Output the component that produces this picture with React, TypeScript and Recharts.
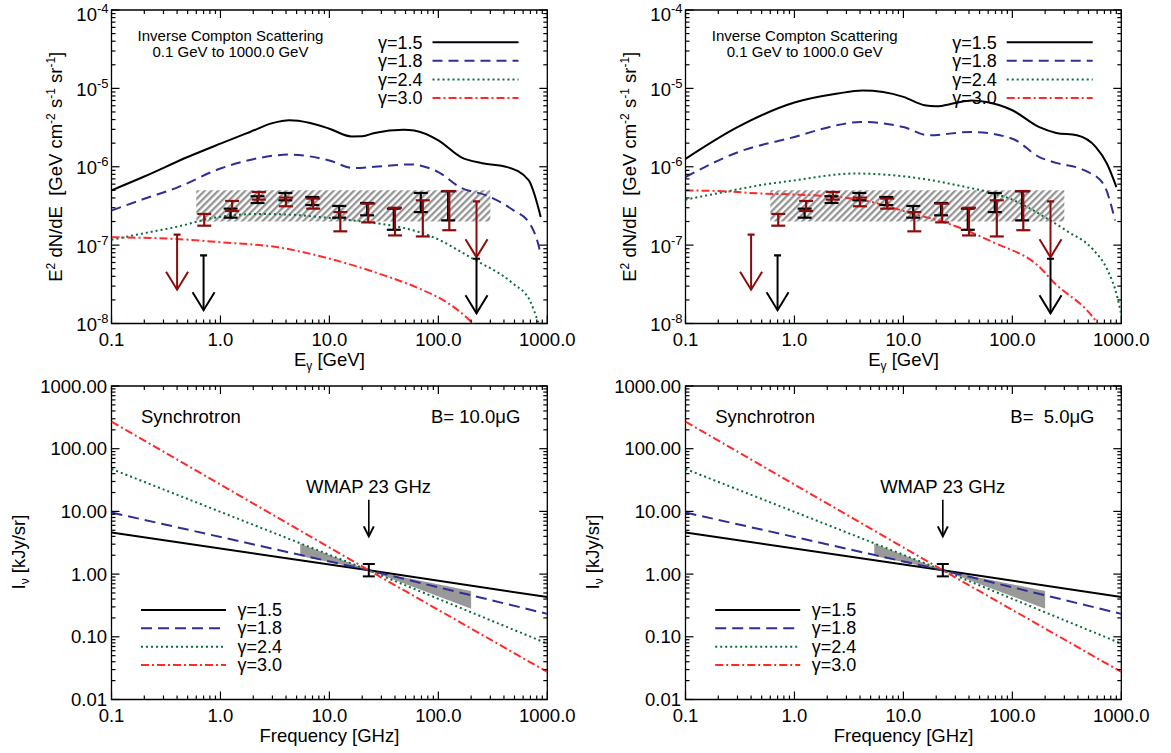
import React from 'react';
import { ComposedChart, Line, Scatter, Area, XAxis, YAxis, ErrorBar, ReferenceArea } from 'recharts';

const FONT = '"Liberation Sans", Arial, Helvetica, sans-serif';

// ---- Inverse Compton spectra, [E (GeV), E^2 dN/dE] ----
const icLeft15 = [[0.1, 5.0e-7], [0.2, 7.5e-7], [0.5, 1.33e-6], [1, 1.97e-6], [1.87, 2.78e-6], [3, 3.6e-6], [4.3, 3.92e-6], [6.5, 3.65e-6], [10, 3.06e-6], [16, 2.44e-6], [20, 2.45e-6], [26, 2.7e-6], [48, 2.97e-6], [60, 2.9e-6], [100, 2.17e-6], [161, 1.33e-6], [253, 1.11e-6], [430, 9.9e-7], [676, 6.7e-7], [741, 5.0e-7], [807, 3.4e-7], [870, 2.28e-7]];
const icLeft18 = [[0.1, 2.76e-7], [0.2, 3.9e-7], [0.41, 5.5e-7], [1, 9.5e-7], [2, 1.25e-6], [4.3, 1.43e-6], [10, 1.2e-6], [16.7, 9.6e-7], [26, 1.0e-6], [55, 1.07e-6], [100, 8.55e-7], [161, 5.4e-7], [277, 4.3e-7], [486, 2.8e-7], [692, 1.88e-7], [824, 1.04e-7], [870, 7.6e-8]];
const icLeft24 = [[0.1, 1.17e-7], [0.2, 1.42e-7], [0.425, 1.75e-7], [0.82, 2.2e-7], [2.3, 2.5e-7], [4.3, 2.45e-7], [8.2, 2.28e-7], [21.9, 1.97e-7], [44, 1.7e-7], [89, 1.27e-7], [207, 6.7e-8], [482, 3.25e-8], [692, 1.96e-8], [814, 1.1e-8], [950, 6e-9]];
const icLeft30 = [[0.1, 1.26e-7], [0.425, 1.19e-7], [1, 1.09e-7], [3.5, 9.3e-8], [10.1, 6.7e-8], [29, 4.3e-8], [67.6, 2.77e-8], [119, 1.87e-8], [181, 1.2e-8], [230, 8.5e-9], [300, 5e-9]];

const icRight15 = [[0.1, 1.26e-6], [0.3, 3.2e-6], [1, 6.6e-6], [2.5, 8.6e-6], [4.2, 9.4e-6], [6.5, 9.0e-6], [10, 7.8e-6], [15.6, 6.1e-6], [20, 5.9e-6], [30, 6.5e-6], [42, 7.0e-6], [58, 6.7e-6], [100, 5.26e-6], [177, 3.2e-6], [253, 2.7e-6], [391, 2.52e-6], [582, 1.79e-6], [739, 1.09e-6], [902, 5.5e-7]];
const icRight18 = [[0.1, 7.4e-7], [0.305, 1.54e-6], [1, 2.4e-6], [2.5, 3.4e-6], [4.04, 3.73e-6], [10, 3.21e-6], [16.9, 2.52e-6], [42, 2.78e-6], [100, 2.28e-6], [177, 1.33e-6], [253, 1.12e-6], [461, 8.97e-7], [683, 6.07e-7], [877, 2.06e-7]];
const icRight24 = [[0.1, 3.8e-7], [0.2, 4.6e-7], [0.48, 5.8e-7], [1, 6.7e-7], [3.6, 8.2e-7], [14.6, 7.06e-7], [37.5, 5.5e-7], [62.6, 4.7e-7], [100, 3.8e-7], [191, 2.35e-7], [320, 1.5e-7], [550, 8.8e-8], [750, 4.75e-8], [920, 2.17e-8], [1000, 1.3e-8]];
const icRight30 = [[0.1, 4.98e-7], [0.2, 4.9e-7], [0.515, 4.54e-7], [1, 4.43e-7], [3.97, 3.81e-7], [12.2, 2.52e-7], [24.9, 1.91e-7], [66.5, 1.09e-7], [191, 4.75e-8], [224, 3.7e-8], [550, 1.2e-8], [700, 7.5e-9], [1000, 3.5e-9]];

// measured points, same in both IC panels
const barBlackE = [1.24, 2.19, 3.94, 6.96, 12.3, 22.2, 39, 69, 123];
const barBlackLo = [2.24e-7, 3.45e-7, 3.73e-7, 3.25e-7, 2.24e-7, 2.4e-7, 1.57e-7, 2.64e-7, 2.07e-7];
const barBlackHi = [2.92e-7, 4.2e-7, 4.63e-7, 4.11e-7, 3.16e-7, 3.45e-7, 2.92e-7, 4.63e-7, 4.86e-7];
const barRedE = [0.71, 1.28, 2.25, 3.99, 7.1, 12.6, 22.7, 40, 72, 126];
const barRedLo = [1.77e-7, 2.72e-7, 3.81e-7, 3.13e-7, 2.92e-7, 1.5e-7, 1.95e-7, 1.33e-7, 1.29e-7, 1.55e-7];
const barRedHi = [2.5e-7, 3.66e-7, 4.77e-7, 4.04e-7, 3.92e-7, 2.64e-7, 3.38e-7, 3.0e-7, 3.73e-7, 4.9e-7];
const limitE = [0.4, 0.7, 224, 224];
const limitTop = [1.36e-7, 7.4e-8, 3.62e-7, 6.7e-8];
const limitTip = [2.7e-8, 1.48e-8, 7.0e-8, 1.35e-8];
const limitRed = [true, false, true, false];
const hatchE = [0.6, 300];
const hatchV = [2e-7, 5e-7];

// ---- Synchrotron, [GHz] vs kJy/sr ----
const syFreq = [0.1, 23, 1000];
const sy15 = [4.6, 1.15, 0.43];
const sy18 = [9.6, 1.15, 0.232];
const sy24 = [47.5, 1.15, 0.078];
const sy30 = [271, 1.15, 0.0275];
const slopeFreq = [5.4, 23, 200];
const slopeLo = [1.95, 1.15, 0.28];
const slopeHi = [3.05, 1.15, 0.54];
const wmapFreq = 23;
const wmapLo = 0.92;
const wmapHi = 1.45;
const wmapArrow = [15.3, 4.0];

// ---- ticks ----
const eMajors = [0.1, 1, 10, 100, 1000];
const eLabels = ['0.1', '1.0', '10.0', '100.0', '1000.0'];
const icMajors = [1e-8, 1e-7, 1e-6, 1e-5, 1e-4];
const icExp = ['-8', '-7', '-6', '-5', '-4'];
const syMajors = [0.01, 0.1, 1, 10, 100, 1000];
const syLabels = ['0.01', '0.10', '1.00', '10.00', '100.00', '1000.00'];

const withMinors = (majors: number[]) => {
  const out: number[] = [];
  majors.forEach((m, i) => {
    out.push(m);
    if (i < majors.length - 1) for (let d = 2; d <= 9; d++) out.push(m * d);
  });
  return out;
};
const majorIndex = (majors: number[], v: number) => majors.findIndex((m) => Math.abs(v / m - 1) < 1e-6);

const gammaLabels = ['γ=1.5', 'γ=1.8', 'γ=2.4', 'γ=3.0'];
const STYLES = [
  { color: '#000000', dash: undefined as string | undefined },
  { color: '#2e2e94', dash: '10 6' },
  { color: '#0b6e38', dash: '2 3' },
  { color: '#ff2a2a', dash: '8 3 2 3' },
];
const DARKRED = '#8c0c0c';

// ---- layout ----
const PANEL_X = [111.5, 685.7];
const PANEL_Y = [10, 386];
const PW = 435.8;
const PH = 313.5;
const CW = 580;
const CH = 376;
const ML = 111.5;
const MT = 10;
const YW = 80; // y axis band
const XH = 40; // x axis band
const MARGIN = { top: MT, left: ML - YW, right: CW - ML - PW, bottom: CH - MT - PH - XH };

const pts = (a: number[][]) => a.map(([e, v]) => ({ e, v }));

const XTick = (p: any) => {
  const i = majorIndex(eMajors, p.payload.value);
  const len = i >= 0 ? 8 : 4;
  return (
    <g>
      <line x1={p.x} x2={p.x} y1={p.y} y2={p.y - len} stroke="#000" strokeWidth={1.2} />
      <line x1={p.x} x2={p.x} y1={p.y - PH} y2={p.y - PH + len} stroke="#000" strokeWidth={1.2} />
      {i >= 0 && (
        <text x={p.x} y={p.y + 22.5} textAnchor="middle" fontSize={18.5} fontFamily={FONT} fill="#000">
          {eLabels[i]}
        </text>
      )}
    </g>
  );
};

const yTickLines = (p: any, major: boolean) => {
  const len = major ? 8 : 4;
  return (
    <>
      <line x1={p.x} x2={p.x + len} y1={p.y} y2={p.y} stroke="#000" strokeWidth={1.2} />
      <line x1={p.x + PW} x2={p.x + PW - len} y1={p.y} y2={p.y} stroke="#000" strokeWidth={1.2} />
    </>
  );
};

const IcTick = (p: any) => {
  const i = majorIndex(icMajors, p.payload.value);
  return (
    <g>
      {yTickLines(p, i >= 0)}
      {i >= 0 && (
        <text x={p.x - 3} y={Math.max(p.y + 7.5, 21)} textAnchor="end" fontSize={18.5} fontFamily={FONT} fill="#000">
          10<tspan dy={-8} fontSize={13}>{icExp[i]}</tspan>
        </text>
      )}
    </g>
  );
};

const SyTick = (p: any) => {
  const i = majorIndex(syMajors, p.payload.value);
  return (
    <g>
      {yTickLines(p, i >= 0)}
      {i >= 0 && (
        <text x={p.x - 4.5} y={p.y + 6.5} textAnchor="end" fontSize={18.5} fontFamily={FONT} fill="#000">
          {syLabels[i]}
        </text>
      )}
    </g>
  );
};

const blank = () => <g />;

const arrowShape = (color: string, hw: number, hh: number, cap: number) => (p: any) => {
  if (p.payload.kind === 'tip')
    return <path d={`M${p.cx - hw},${p.cy - hh}L${p.cx},${p.cy}L${p.cx + hw},${p.cy - hh}`} fill="none" stroke={color} strokeWidth={2} />;
  if (cap > 0) return <line x1={p.cx - cap} x2={p.cx + cap} y1={p.cy} y2={p.cy} stroke={color} strokeWidth={2.2} />;
  return <g />;
};

const barData = (es: number[], lo: number[], hi: number[]) => es.map((e, i) => ({ e, v: lo[i], err: [0, hi[i] - lo[i]] }));

const eTicks = withMinors(eMajors);

const xAxisEl = (
  <XAxis dataKey="e" type="number" scale="log" domain={[0.1, 1000]} allowDataOverflow ticks={eTicks} interval={0} tickSize={0} tickMargin={0} height={XH} axisLine={false} tickLine={false} tick={XTick} />
);

function IcPanel({ ox, curves }: { ox: number; curves: number[][][] }) {
  return (
    <div style={{ position: 'absolute', left: ox - ML, top: PANEL_Y[0] - MT }}>
      <ComposedChart width={CW} height={CH} margin={MARGIN}>
        {xAxisEl}
        <YAxis dataKey="v" type="number" scale="log" domain={[1e-8, 1e-4]} allowDataOverflow ticks={withMinors(icMajors)} interval={0} tickSize={0} tickMargin={0} width={YW} axisLine={false} tickLine={false} tick={IcTick} />
        <ReferenceArea x1={hatchE[0]} x2={hatchE[1]} y1={hatchV[0]} y2={hatchV[1]} fill="url(#hatch)" fillOpacity={1} stroke="none" ifOverflow="visible" />
        {curves.map((c, i) => (
          <Line key={i} data={pts(c)} dataKey="v" type="monotone" stroke={STYLES[i].color} strokeDasharray={STYLES[i].dash} strokeWidth={2} dot={false} activeDot={false} isAnimationActive={false} />
        ))}
        <Scatter data={barData(barBlackE, barBlackLo, barBlackHi)} dataKey="v" shape={blank} isAnimationActive={false}>
          <ErrorBar dataKey="err" direction="y" width={7} stroke="#000" strokeWidth={2.2} />
        </Scatter>
        <Scatter data={barData(barRedE, barRedLo, barRedHi)} dataKey="v" shape={blank} isAnimationActive={false}>
          <ErrorBar dataKey="err" direction="y" width={7} stroke={DARKRED} strokeWidth={2.2} />
        </Scatter>
        {limitE.map((e, i) => {
          const c = limitRed[i] ? DARKRED : '#000';
          return (
            <Scatter
              key={'lim' + i}
              data={[{ e, v: limitTop[i], kind: 'top' }, { e, v: limitTip[i], kind: 'tip' }]}
              dataKey="v"
              line={{ stroke: c, strokeWidth: 2 }}
              shape={arrowShape(c, 11, 18, 3.5)}
              isAnimationActive={false}
            />
          );
        })}
        <ReferenceArea x1={0.1} x2={1000} y1={1e-8} y2={1e-4} fill="none" stroke="#000" strokeWidth={1.3} ifOverflow="visible" />
      </ComposedChart>
    </div>
  );
}

const syCurves = [sy15, sy18, sy24, sy30];

function SyPanel({ ox }: { ox: number }) {
  const band = slopeFreq.map((e, i) => ({ e, band: [slopeLo[i], slopeHi[i]] }));
  return (
    <div style={{ position: 'absolute', left: ox - ML, top: PANEL_Y[1] - MT }}>
      <ComposedChart width={CW} height={CH} margin={MARGIN}>
        {xAxisEl}
        <YAxis dataKey="v" type="number" scale="log" domain={[0.01, 1000]} allowDataOverflow ticks={withMinors(syMajors)} interval={0} tickSize={0} tickMargin={0} width={YW} axisLine={false} tickLine={false} tick={SyTick} />
        <Area data={band} dataKey="band" type="linear" fill="#999999" fillOpacity={1} stroke="none" dot={false} activeDot={false} isAnimationActive={false} />
        {syCurves.map((c, i) => (
          <Line key={i} data={syFreq.map((e, j) => ({ e, v: c[j] }))} dataKey="v" type="linear" stroke={STYLES[i].color} strokeDasharray={STYLES[i].dash === '10 6' ? '11 6' : STYLES[i].dash} strokeWidth={2} dot={false} activeDot={false} isAnimationActive={false} />
        ))}
        <Scatter data={[{ e: wmapFreq, v: wmapLo, err: [0, wmapHi - wmapLo] }]} dataKey="v" shape={blank} isAnimationActive={false}>
          <ErrorBar dataKey="err" direction="y" width={6} stroke="#000" strokeWidth={2} />
        </Scatter>
        <Scatter
          data={[{ e: wmapFreq, v: wmapArrow[0], kind: 'top' }, { e: wmapFreq, v: wmapArrow[1], kind: 'tip' }]}
          dataKey="v"
          line={{ stroke: '#000', strokeWidth: 1.6 }}
          shape={arrowShape('#000', 5, 10, 0)}
          isAnimationActive={false}
        />
        <ReferenceArea x1={0.1} x2={1000} y1={0.01} y2={1000} fill="none" stroke="#000" strokeWidth={1.3} ifOverflow="visible" />
      </ComposedChart>
    </div>
  );
}

const T = { fontFamily: FONT, fill: '#000' };

function IcLabels({ pl }: { pl: number }) {
  const pt = PANEL_Y[0];
  return (
    <g {...T}>
      <text transform={`translate(${pl - 50},${pt + PH / 2}) rotate(-90)`} textAnchor="middle" fontSize={18.5} style={{ whiteSpace: 'pre' }}>
        E<tspan dy={-7} fontSize={12}>2</tspan>
        <tspan dy={7}> dN/dE  [GeV cm</tspan>
        <tspan dy={-7} fontSize={12}>-2</tspan>
        <tspan dy={7}> s</tspan>
        <tspan dy={-7} fontSize={12}>-1</tspan>
        <tspan dy={7}> sr</tspan>
        <tspan dy={-7} fontSize={12}>-1</tspan>
        <tspan dy={7}>]</tspan>
      </text>
      <text x={pl + PW / 2} y={pt + PH + 42.5} textAnchor="middle" fontSize={18.5}>
        E<tspan dy={4} fontSize={12}>γ</tspan>
        <tspan dy={-4}> [GeV]</tspan>
      </text>
      <text x={pl + 119} y={pt + 31} textAnchor="middle" fontSize={15}>Inverse Compton Scattering</text>
      <text x={pl + 119} y={pt + 47} textAnchor="middle" fontSize={15}>0.1 GeV to 1000.0 GeV</text>
      {gammaLabels.map((g, i) => {
        const y = pt + 32.3 + i * 18.55;
        return (
          <g key={g}>
            <text x={pl + 266.5} y={y + 6.5} fontSize={18}>{g}</text>
            <line x1={pl + 321} x2={pl + 407} y1={y} y2={y} stroke={STYLES[i].color} strokeWidth={2} strokeDasharray={STYLES[i].dash} />
          </g>
        );
      })}
    </g>
  );
}

function SyLabels({ pl, bText }: { pl: number; bText: string }) {
  const pt = PANEL_Y[1];
  return (
    <g {...T}>
      <text transform={`translate(${pl - 87},${pt + 166}) rotate(-90)`} textAnchor="middle" fontSize={18.5}>
        I<tspan dy={4} fontSize={12}>ν</tspan>
        <tspan dy={-4}> [kJy/sr]</tspan>
      </text>
      <text x={pl + PW / 2} y={pt + PH + 42.5} textAnchor="middle" fontSize={18.5}>Frequency [GHz]</text>
      <text x={pl + 29.5} y={pt + 36.5} fontSize={18.5}>Synchrotron</text>
      <text x={pl + PW - 27} y={pt + 36.5} textAnchor="end" fontSize={18.5} style={{ whiteSpace: 'pre' }}>{bText}</text>
      <text x={pl + 257} y={pt + 106.5} textAnchor="middle" fontSize={18.5}>WMAP 23 GHz</text>
      {gammaLabels.map((g, i) => {
        const y = pt + 224 + i * 18.35;
        return (
          <g key={g}>
            <line x1={pl + 29.5} x2={pl + 114.5} y1={y} y2={y} stroke={STYLES[i].color} strokeWidth={2} strokeDasharray={STYLES[i].dash === '10 6' ? '11 6' : STYLES[i].dash} />
            <text x={pl + 126} y={y + 6} fontSize={18}>{g}</text>
          </g>
        );
      })}
    </g>
  );
}

export default function App() {
  return (
    <div style={{ position: 'absolute', left: 0, top: 0, width: 1171, height: 753, background: '#fff', overflow: 'hidden' }}>
      <IcPanel ox={PANEL_X[0]} curves={[icLeft15, icLeft18, icLeft24, icLeft30]} />
      <IcPanel ox={PANEL_X[1]} curves={[icRight15, icRight18, icRight24, icRight30]} />
      <SyPanel ox={PANEL_X[0]} />
      <SyPanel ox={PANEL_X[1]} />
      <svg width={1171} height={753} style={{ position: 'absolute', left: 0, top: 0, pointerEvents: 'none' }}>
        <defs>
          <pattern id="hatch" patternUnits="userSpaceOnUse" width={4.8} height={4.8} patternTransform="rotate(45)">
            <line x1={1.2} y1={0} x2={1.2} y2={4.8} stroke="#8f8f8f" strokeWidth={2.2} />
          </pattern>
        </defs>
        <IcLabels pl={PANEL_X[0]} />
        <IcLabels pl={PANEL_X[1]} />
        <SyLabels pl={PANEL_X[0]} bText="B= 10.0μG" />
        <SyLabels pl={PANEL_X[1]} bText="B=  5.0μG" />
      </svg>
    </div>
  );
}
